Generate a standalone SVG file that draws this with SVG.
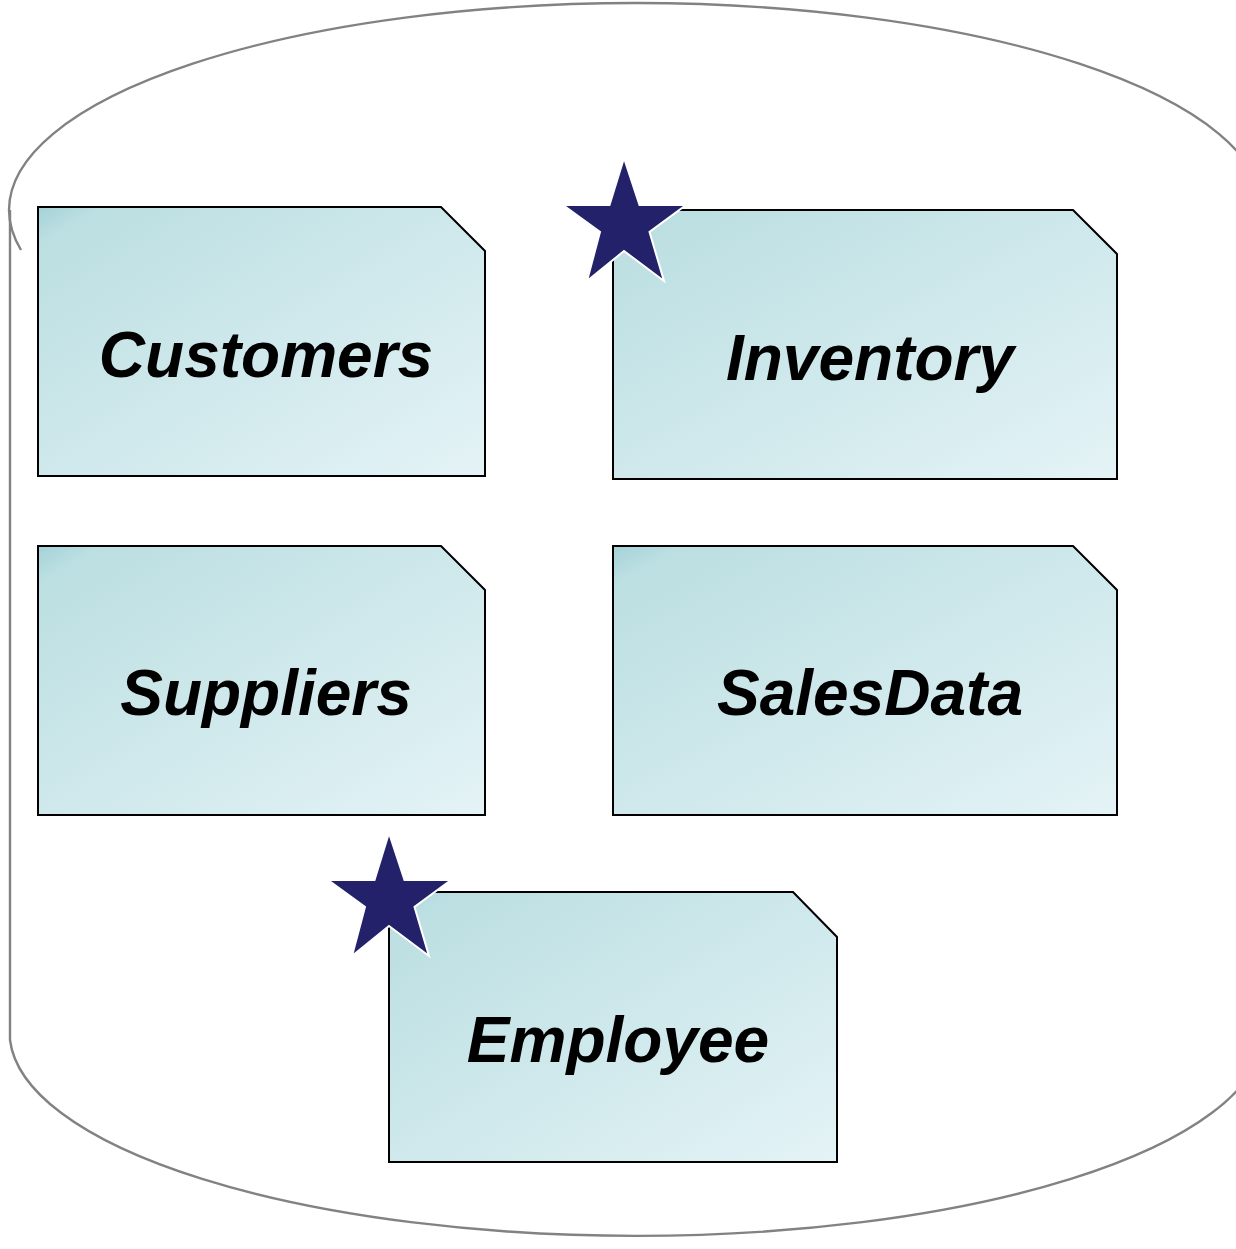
<svg xmlns="http://www.w3.org/2000/svg" width="1236" height="1249" viewBox="0 0 1236 1249">
<defs>
<linearGradient id="boxfill" x1="0" y1="0" x2="1" y2="1">
<stop offset="0" stop-color="#a4d2d7"/>
<stop offset="0.07" stop-color="#bcdfe2"/>
<stop offset="1" stop-color="#e4f3f6"/>
</linearGradient>
<polygon id="star" points="624,158 639.5,205 686,205 649.5,232 664,281 624,251 587,281 600,232 563,205 609.5,205"/>
</defs>
<style>
.cyl{fill:none;stroke:#828282;stroke-width:2.4}
.box{fill:url(#boxfill);stroke:#000;stroke-width:2}
.lbl{font-family:"Liberation Sans",Arial,sans-serif;font-weight:bold;font-style:italic;font-size:64px;fill:#000;text-anchor:middle}
.star{fill:#23216a;stroke:#fff;stroke-width:2}
</style>
<g id="cylinder">
<path class="cyl" d="M 9 210 A 627 207 0 0 1 1263 210"/>
<path class="cyl" d="M 9 210 A 627 207 0 0 0 21 250"/>
<path class="cyl" d="M 10 210 L 10 1040 A 627 204 0 0 0 1263 1040"/>
</g>
<g id="connectors"></g>
<g id="customers">
<path class="box" d="M38 207 H441 L485 251 V476 H38 Z"/>
<text class="lbl" x="266" y="377">Customers</text>
</g>
<g id="inventory">
<path class="box" d="M613 210 H1073 L1117 254 V479 H613 Z"/>
<text class="lbl" x="870" y="380">Inventory</text>
</g>
<g id="suppliers">
<path class="box" d="M38 546 H441 L485 590 V815 H38 Z"/>
<text class="lbl" x="266" y="715">Suppliers</text>
</g>
<g id="salesdata">
<path class="box" d="M613 546 H1073 L1117 590 V815 H613 Z"/>
<text class="lbl" x="870" y="715">SalesData</text>
</g>
<g id="employee">
<path class="box" d="M389 892 H793 L837 937 V1162 H389 Z"/>
<text class="lbl" x="618" y="1062">Employee</text>
</g>
<g id="star-inventory">
<use href="#star" class="star"/>
</g>
<g id="star-employee">
<use href="#star" class="star" transform="translate(-235 675)"/>
</g>
</svg>
